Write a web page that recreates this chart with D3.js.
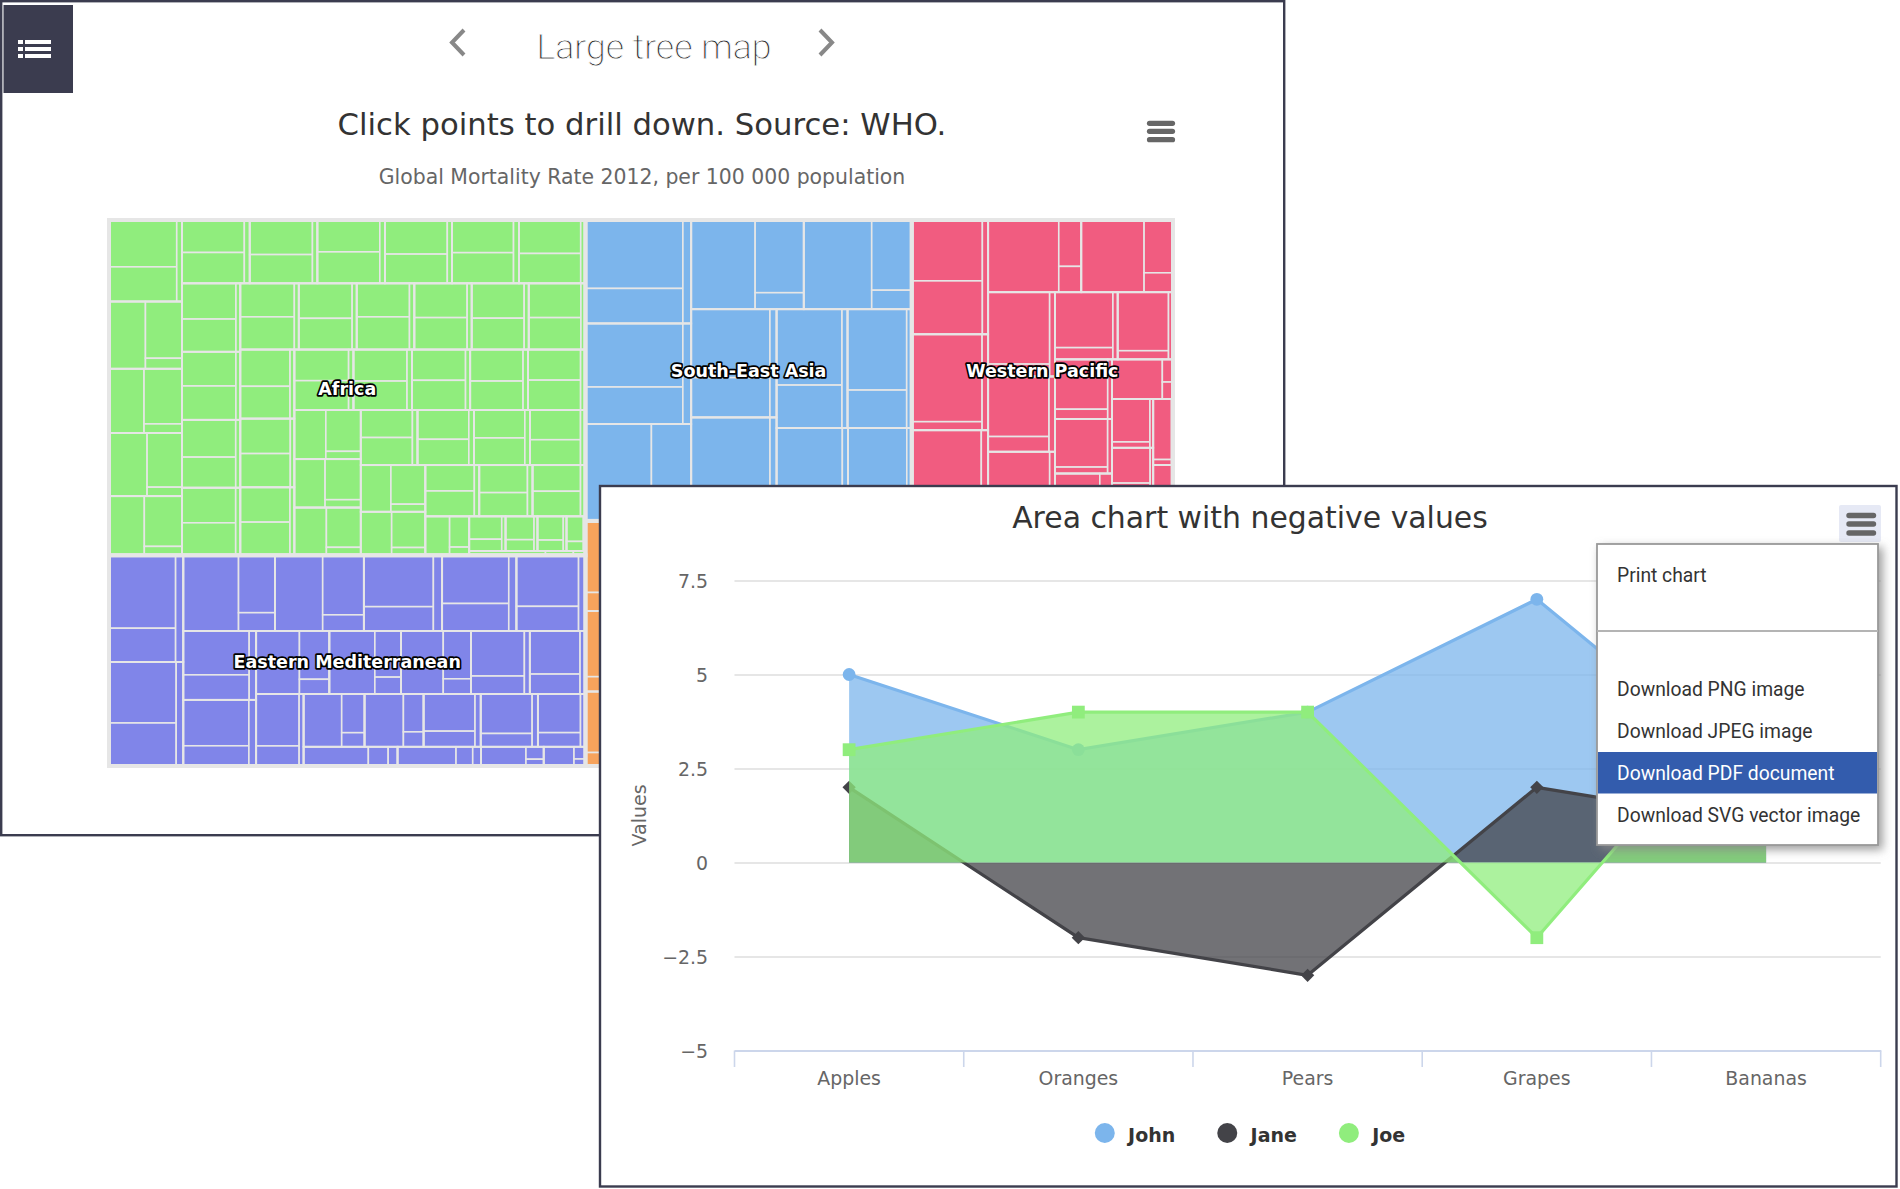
<!DOCTYPE html>
<html><head><meta charset="utf-8">
<script src="https://cdn.jsdelivr.net/npm/d3@7"></script>
<style>
html,body{margin:0;padding:0;background:#fff;}
svg{display:block;}
</style></head><body>
<svg id="c" width="1900" height="1189"></svg>
<script>
// ================= DATA =================
const navTitle = "Large tree map";
const tmTitle = "Click points to drill down. Source: WHO.";
const tmSubtitle = "Global Mortality Rate 2012, per 100 000 population";

const regionNames = ["Africa", "Eastern Mediterranean", "South-East Asia", "Western Pacific", "Americas", "Europe"];
const regionColors = ["#90ed7d", "#8085e9", "#7cb5ec", "#f15c80", "#f7a35c", "#434348"];
const causes = ["Communicable & other Group I", "Noncommunicable diseases", "Injuries"];

// per country: [communicable, noncommunicable, injuries] (estimated)
const africa = [[790,585,105],[610,515,95],[560,520,85],[600,470,78],[520,470,83],[505,480,85],[540,450,78],[495,490,80],[530,455,75],[470,500,85],[515,460,75],[480,440,75],[455,460,75],[500,410,78],[470,435,78],[440,450,73],[465,415,75],[430,440,80],[450,420,75],[410,455,75],[445,415,75],[400,455,75],[435,420,70],[410,430,75],[420,395,73],[385,420,75],[410,395,70],[380,415,75],[400,390,73],[360,385,68],[370,360,70],[340,380,68],[355,355,70],[330,375,70],[345,355,70],[320,375,68],[335,350,65],[300,335,65],[310,315,63],[285,330,65],[300,312,63],[150,235,40],[95,185,33],[80,165,30],[70,152,28],[40,105,18],[30,82,13]];
const easternMed = [[560,1210,205],[720,1020,185],[520,1040,165],[610,900,165],[420,890,165],[455,800,145],[380,790,130],[410,720,120],[330,750,120],[360,680,110],[300,715,110],[330,665,105],[240,600,85],[250,540,85],[215,555,80],[220,500,80],[190,510,75],[200,475,75],[170,505,75],[150,410,65],[95,310,45],[80,280,40],[55,215,30],[35,145,20]];
const southEastAsia = [[850,1660,215],[900,1540,210],[760,1590,200],[880,1420,200],[700,1510,190],[780,1340,180],[640,1390,170],[700,1235,165],[560,1190,150],[540,980,130],[420,940,115]];
const westernPacific = [[940,1070,165],[150,1530,145],[330,1240,155],[260,1270,145],[380,1130,140],[190,1100,110],[230,910,110],[140,920,90],[170,800,80],[110,740,75],[130,655,65],[85,630,60],[90,530,55],[60,495,45],[55,405,40],[35,335,30],[30,290,30],[25,275,25],[20,235,20]];
const americas = [[260,1010,180],[210,930,160],[190,860,150],[170,835,145],[160,800,140],[150,770,130],[140,735,125],[130,725,120],[135,700,115],[120,690,115],[125,665,110],[115,650,110],[110,635,105],[105,615,105],[100,600,100],[95,585,95],[90,570,90],[85,530,85],[75,495,80]];
const europe = [[60,1000,90],[55,960,85],[50,920,80],[50,875,75],[45,835,70],[45,790,65],[40,770,65],[40,750,60],[40,725,60],[35,710,55],[35,685,55],[35,665,50],[30,645,50],[30,620,50],[30,600,45],[25,580,45],[25,560,40],[25,535,40],[20,515,40],[20,495,35],[20,470,35],[15,450,35],[15,430,30]];
const regionData = [africa, easternMed, southEastAsia, westernPacific, americas, europe];

const chartTitle = "Area chart with negative values";
const categories = ["Apples", "Oranges", "Pears", "Grapes", "Bananas"];
const seriesNames = ["John", "Jane", "Joe"];
const john = [5, 3, 4, 7, 2];
const jane = [2, -2, -3, 2, 1];
const joe = [3, 4, 4, -2, 5];
const seriesColors = ["#7cb5ec", "#434348", "#90ed7d"];
const seriesSymbols = ["circle", "diamond", "square"];
const yTicks = [-5, -2.5, 0, 2.5, 5, 7.5];
const yTickLabels = ["\u22125", "\u22122.5", "0", "2.5", "5", "7.5"];
const yTitle = "Values";
const menuItems = ["Print chart", "Download PNG image", "Download JPEG image", "Download PDF document", "Download SVG vector image"];
const menuHighlighted = 3;

// ================= DRAW =================
const HC = "'DejaVu Sans', sans-serif";
const svg = d3.select("#c");
const defs = svg.append("defs");
const f = defs.append("filter").attr("id", "sh").attr("x", "-20%").attr("y", "-20%").attr("width", "150%").attr("height", "150%");
f.append("feDropShadow").attr("dx", 4).attr("dy", 4).attr("stdDeviation", 5).attr("flood-color", "#888").attr("flood-opacity", 0.8);

function fitWidth(t, w) {
  const l = t.node().getComputedTextLength();
  const fs = parseFloat(t.attr("font-size"));
  if (l > 0) t.attr("font-size", fs * w / l);
  return t;
}

// ---------- back panel (treemap) ----------
const dark = "#3b3c4f";
svg.append("rect").attr("x", 1.2).attr("y", 1.2).attr("width", 1283).attr("height", 834)
  .attr("fill", "#fff").attr("stroke", dark).attr("stroke-width", 2.4);
svg.append("rect").attr("x", 3.5).attr("y", 5).attr("width", 69.5).attr("height", 88).attr("fill", dark);
[40, 47, 54].forEach(yy => {
  svg.append("rect").attr("x", 18).attr("y", yy).attr("width", 5).attr("height", 4).attr("fill", "#fff");
  svg.append("rect").attr("x", 25).attr("y", yy).attr("width", 26).attr("height", 4).attr("fill", "#fff");
});
svg.append("polyline").attr("points", "464,30 452,42.5 464,55").attr("fill", "none").attr("stroke", "#888").attr("stroke-width", 4);
svg.append("polyline").attr("points", "820,30 832,42.5 820,55").attr("fill", "none").attr("stroke", "#888").attr("stroke-width", 4);
fitWidth(svg.append("text").attr("x", 654).attr("y", 59).attr("text-anchor", "middle")
  .attr("font-family", "'Roboto Light', 'Lato Light', Roboto, Lato, sans-serif").attr("font-weight", 200)
  .attr("font-size", 38).attr("fill", "#222").attr("stroke", "#fff").attr("stroke-width", 0.8).text(navTitle), 235);
fitWidth(svg.append("text").attr("x", 642).attr("y", 135).attr("text-anchor", "middle")
  .attr("font-family", HC).attr("font-size", 30).attr("fill", "#333").text(tmTitle), 609);
fitWidth(svg.append("text").attr("x", 642).attr("y", 184).attr("text-anchor", "middle")
  .attr("font-family", HC).attr("font-size", 19).attr("fill", "#666").text(tmSubtitle), 527);
[123.3, 131.3, 139.7].forEach(yy => svg.append("line").attr("x1", 1149.5).attr("x2", 1172.5).attr("y1", yy).attr("y2", yy)
  .attr("stroke", "#666").attr("stroke-width", 5.2).attr("stroke-linecap", "round"));

// treemap, Highcharts-like squarified tiling (alternating direction, starting vertical)
function hcTile(parent, x0, y0, x1, y1) {
  const kids = parent.children;
  if (!kids || !kids.length) return;
  const scale = (x1 - x0) * (y1 - y0) / parent.value;
  let dir = 0, rx = x0, ry = y0, rw = x1 - x0, rh = y1 - y0, group = [];
  const ratio = (a, b) => Math.max(a / b, b / a);
  function place(items) {
    const s = d3.sum(items, d => d.a);
    if (dir === 0) {
      const w = s / rh; let yy = ry;
      items.forEach(d => { const h = d.a / w; d.n.x0 = rx; d.n.x1 = rx + w; d.n.y0 = yy; d.n.y1 = yy + h; yy += h; });
      rx += w; rw -= w;
    } else {
      const h = s / rw; let xx = rx;
      items.forEach(d => { const w = d.a / h; d.n.x0 = xx; d.n.x1 = xx + w; d.n.y0 = ry; d.n.y1 = ry + h; xx += w; });
      ry += h; rh -= h;
    }
    dir = 1 - dir;
  }
  kids.forEach((n, i) => {
    group.push({n: n, a: n.value * scale});
    if (group.length > 1) {
      const prev = group[group.length - 2].a;
      const sOld = d3.sum(group.slice(0, -1), d => d.a);
      const sNew = sOld + group[group.length - 1].a;
      const side = dir === 0 ? rh : rw;
      const tOld = sOld / side, tNew = sNew / side;
      if (ratio(tNew, prev / tNew) > ratio(tOld, prev / tOld)) {
        const keep = group.pop(); place(group); group = [keep];
      }
    }
    if (i === kids.length - 1) place(group);
  });
}

const tmX0 = 109, tmY0 = 220, tmX1 = 1173, tmY1 = 766;
const treeData = {name: "root", children: regionNames.map((r, i) => ({
  name: r, color: regionColors[i],
  children: regionData[i].map(c => ({children: c.map((v, k) => ({name: causes[k], value: v}))}))
}))};
const root = d3.hierarchy(treeData).sum(d => d.value || 0).sort((a, b) => b.value - a.value);
d3.treemap().size([tmX1 - tmX0, tmY1 - tmY0]).tile(hcTile).round(false)(root);

const tm = svg.append("g").attr("transform", `translate(${tmX0},${tmY0})`);
const regionOf = d => d.ancestors().find(a => a.depth === 1);
tm.selectAll("rect.leaf").data(root.leaves()).join("rect").attr("class", "leaf")
  .attr("x", d => d.x0).attr("y", d => d.y0).attr("width", d => d.x1 - d.x0).attr("height", d => d.y1 - d.y0)
  .attr("fill", d => regionOf(d).data.color).attr("stroke", "#e6e6e6").attr("stroke-width", 1.6);
tm.selectAll("rect.country").data(root.descendants().filter(d => d.depth === 2)).join("rect").attr("class", "country")
  .attr("x", d => d.x0).attr("y", d => d.y0).attr("width", d => d.x1 - d.x0).attr("height", d => d.y1 - d.y0)
  .attr("fill", "none").attr("stroke", "#e6e6e6").attr("stroke-width", 1.8);
tm.selectAll("rect.region").data(root.children).join("rect").attr("class", "region")
  .attr("x", d => d.x0).attr("y", d => d.y0).attr("width", d => d.x1 - d.x0).attr("height", d => d.y1 - d.y0)
  .attr("fill", "none").attr("stroke", "#e6e6e6").attr("stroke-width", 4);
tm.selectAll("text.rl").data(root.children).join("text").attr("class", "rl")
  .attr("x", d => (d.x0 + d.x1) / 2).attr("y", d => (d.y0 + d.y1) / 2).attr("dy", "0.4em")
  .attr("text-anchor", "middle").attr("font-family", HC).attr("font-weight", "bold").attr("font-size", 17.5)
  .attr("fill", "#fff").attr("stroke", "#000").attr("stroke-width", 3.4).attr("stroke-linejoin", "round")
  .attr("paint-order", "stroke").text(d => d.data.name);

// ---------- front panel (area chart) ----------
svg.append("rect").attr("x", 600).attr("y", 486).attr("width", 1296.5).attr("height", 700.5)
  .attr("fill", "#fff").attr("stroke", dark).attr("stroke-width", 2.4);
fitWidth(svg.append("text").attr("x", 1250).attr("y", 528).attr("text-anchor", "middle")
  .attr("font-family", HC).attr("font-size", 29).attr("fill", "#333").text(chartTitle), 476);

const plotL = 734.5, plotR = 1880.7, plotT = 580.5, plotB = 1050.5;
const x = d3.scaleBand().domain(categories).range([plotL, plotR]);
const y = d3.scaleLinear().domain([-5, 7.5]).range([plotB, plotT]);
const cx = c => x(c) + x.bandwidth() / 2;

const ga = svg.append("g").attr("transform", `translate(${plotL},0)`)
  .call(d3.axisLeft(y).tickValues(yTicks).tickSize(-(plotR - plotL)).tickFormat((d, i) => yTickLabels[i]));
ga.select(".domain").remove();
ga.selectAll("line").attr("stroke", "#e6e6e6").attr("stroke-width", 1.8);
ga.selectAll("text").attr("x", -26.5).attr("dy", "0.36em").attr("font-family", HC).attr("font-size", 18.9).attr("fill", "#666");

svg.append("text").attr("transform", `translate(646,${(plotT + plotB) / 2}) rotate(-90)`).attr("text-anchor", "middle")
  .attr("font-family", HC).attr("font-size", 19).attr("fill", "#666").text(yTitle);

const gx = svg.append("g").attr("transform", `translate(0,${plotB})`)
  .call(d3.axisBottom(x).tickSize(0).tickSizeOuter(0).tickPadding(0));
gx.select(".domain").attr("stroke", "#ccd6eb").attr("stroke-width", 2);
gx.selectAll("text").attr("y", 34).attr("dy", 0).attr("font-family", HC).attr("font-size", 18.9).attr("fill", "#666");
gx.selectAll("line.bt").data(categories.map(c => x(c)).concat([x.range()[1]])).join("line").attr("class", "bt")
  .attr("x1", d => d).attr("x2", d => d).attr("y1", 0).attr("y2", 16.5).attr("stroke", "#ccd6eb").attr("stroke-width", 1.6);

const seriesData = [john, jane, joe];
const area = d3.area().x((d, i) => cx(categories[i])).y0(y(0)).y1(d => y(d));
const line = d3.line().x((d, i) => cx(categories[i])).y(d => y(d));
const symbolOf = {circle: d3.symbolCircle, square: d3.symbolSquare, diamond: d3.symbolSquare};
const symbolSize = {circle: Math.PI * 6.4 * 6.4, square: 12.8 * 12.8, diamond: 9.4 * 9.4};
seriesData.forEach((vals, si) => {
  const g = svg.append("g");
  g.append("path").attr("d", area(vals)).attr("fill", seriesColors[si]).attr("fill-opacity", 0.75);
  g.append("path").attr("d", line(vals)).attr("fill", "none").attr("stroke", seriesColors[si]).attr("stroke-width", 3.2)
    .attr("stroke-linejoin", "round");
  const sym = seriesSymbols[si];
  g.selectAll("path.m").data(vals).join("path").attr("class", "m")
    .attr("transform", (d, i) => `translate(${cx(categories[i])},${y(d)})` + (sym === "diamond" ? " rotate(45)" : ""))
    .attr("d", d3.symbol(symbolOf[sym], symbolSize[sym])).attr("fill", seriesColors[si]);
});

// legend
const lg = svg.append("g");
const items = seriesNames.map((n, i) => {
  const g = lg.append("g");
  g.append("circle").attr("cx", 10).attr("cy", 0).attr("r", 10).attr("fill", seriesColors[i]);
  const t = g.append("text").attr("x", 33.3).attr("y", 8.5).attr("font-family", HC).attr("font-weight", "bold")
    .attr("font-size", 19).attr("fill", "#333").text(n);
  return {g, w: 33.3 + t.node().getComputedTextLength()};
});
const gap = 42;
const totalW = d3.sum(items, d => d.w) + gap * (items.length - 1);
let lx = 1250 - totalW / 2;
items.forEach(it => { it.g.attr("transform", `translate(${lx},1133)`); lx += it.w + gap; });

// export button
svg.append("rect").attr("x", 1839).attr("y", 505).attr("width", 42).attr("height", 37).attr("rx", 2).attr("fill", "#e6e9f5");
[515.5, 524, 533].forEach(yy => svg.append("line").attr("x1", 1849).attr("x2", 1873.5).attr("y1", yy).attr("y2", yy)
  .attr("stroke", "#666").attr("stroke-width", 5.4).attr("stroke-linecap", "round"));

// context menu
const mx0 = 1597, my0 = 544, mx1 = 1878, my1 = 845;
const menu = svg.append("g");
menu.append("rect").attr("x", mx0).attr("y", my0).attr("width", mx1 - mx0).attr("height", my1 - my0)
  .attr("fill", "#fff").attr("stroke", "#999").attr("stroke-width", 1.8).attr("filter", "url(#sh)");
menu.append("line").attr("x1", mx0).attr("x2", mx1).attr("y1", 631).attr("y2", 631).attr("stroke", "#b4b4b4").attr("stroke-width", 2);
const baselines = [582, 696, 738, 780, 822];
menu.append("rect").attr("x", mx0 + 1).attr("y", 752).attr("width", mx1 - mx0 - 2).attr("height", 41.5).attr("fill", "#335cad");
menuItems.forEach((m, i) => {
  menu.append("text").attr("x", 1617).attr("y", baselines[i]).attr("font-family", "Roboto, sans-serif")
    .attr("font-size", 19.3).attr("fill", i === menuHighlighted ? "#fff" : "#333").text(m);
});
</script>
</body></html>
